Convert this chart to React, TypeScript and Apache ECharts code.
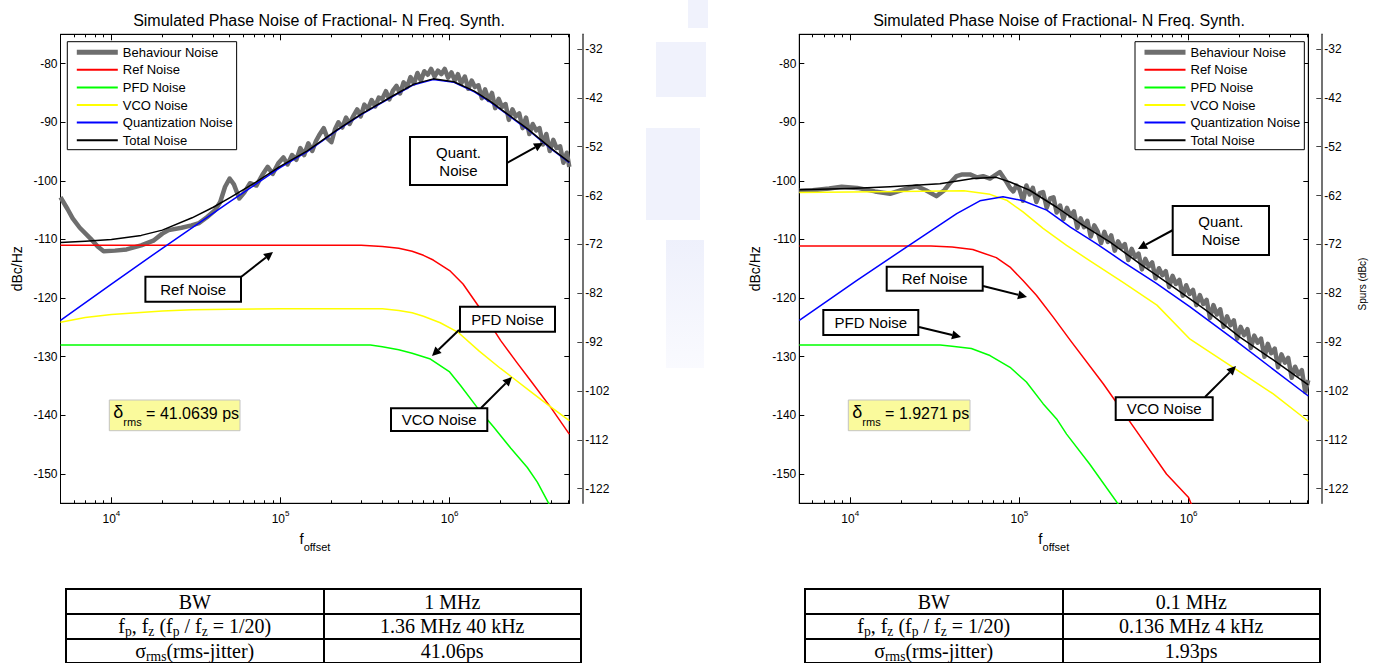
import React, { useEffect, useRef } from 'react';
import * as echarts from 'echarts';

const FONT = '"Liberation Sans", Arial, Helvetica, sans-serif';
const SERIF = '"Liberation Serif", "Times New Roman", Times, serif';

// ---------- axes ----------
const X_MIN = 5000;
const X_MAX = 5.1e6;
const X_MAJOR_TICKS = [1e4, 1e5, 1e6];
const X_MINOR_TICKS = [6e3, 7e3, 8e3, 9e3, 2e4, 3e4, 4e4, 5e4, 6e4, 7e4, 8e4, 9e4, 2e5, 3e5, 4e5, 5e5, 6e5, 7e5, 8e5, 9e5, 2e6, 3e6, 4e6, 5e6];
const Y_MIN = -155;
const Y_MAX = -75;
const Y_TICKS = [-150, -140, -130, -120, -110, -100, -90, -80];
const SPUR_MIN = -125;
const SPUR_MAX = -29;
const SPUR_TICKS = [-122, -112, -102, -92, -82, -72, -62, -52, -42, -32];

const TITLE = 'Simulated Phase Noise of Fractional- N Freq. Synth.';
const SERIES_NAMES = ['Behaviour Noise', 'Ref Noise', 'PFD Noise', 'VCO Noise', 'Quantization Noise', 'Total Noise'];
const SERIES_COLORS = ['#6e6e6e', '#ff0000', '#00ff00', '#ffff00', '#0000ff', '#000000'];

// ---------- chart 1: BW = 1 MHz ----------
const bw1MBehavFreq = [5e3, 5.5e3, 5.9e3, 6.5e3, 7.5e3, 8.3e3, 9e3, 1.05e4, 1.23e4, 1.5e4, 1.77e4, 2e4, 2.18e4, 2.6e4, 2.98e4, 3.3e4, 3.67e4, 4.1e4, 4.4e4, 4.7e4, 5e4, 5.3e4, 5.7e4, 6.1e4, 6.6e4, 7.2e4, 7.8e4,
  8.4e4, 9.0e4, 9.7e4, 1.04e5, 1.1e5, 1.17e5, 1.24e5, 1.31e5, 1.38e5, 1.46e5, 1.54e5, 1.62e5, 1.71e5, 1.8e5, 1.9e5, 2.0e5, 2.1e5, 2.2e5, 2.32e5, 2.44e5, 2.56e5, 2.7e5, 2.84e5, 2.98e5,
  3.13e5, 3.29e5, 3.46e5, 3.63e5, 3.81e5, 4.0e5, 4.2e5, 4.4e5, 4.62e5, 4.85e5, 5.09e5, 5.34e5, 5.6e5, 5.87e5, 6.15e5, 6.45e5, 6.76e5, 7.08e5, 7.42e5, 7.77e5, 8.14e5, 8.53e5, 8.93e5, 9.35e5, 9.79e5,
  1.025e6, 1.073e6, 1.12e6, 1.17e6, 1.23e6, 1.29e6, 1.35e6, 1.41e6, 1.48e6, 1.55e6, 1.62e6, 1.7e6, 1.78e6, 1.86e6, 1.95e6, 2.04e6, 2.14e6, 2.24e6, 2.35e6, 2.46e6, 2.58e6, 2.7e6, 2.83e6, 2.96e6,
  3.1e6, 3.25e6, 3.4e6, 3.56e6, 3.73e6, 3.91e6, 4.1e6, 4.29e6, 4.5e6, 4.71e6, 4.93e6, 5.1e6];
const bw1MBehavDb = [-102.8, -104.8, -106.4, -108.0, -109.8, -111.2, -112.0, -111.9, -111.7, -111.0, -110.2, -109.0, -108.4, -108.0, -107.6, -107.2, -106.2, -105.0, -103.6, -101.0, -99.6, -100.6, -103.0, -102.0, -100.4, -100.8, -99.0,
  -97.6, -98.8, -97.0, -96.0, -97.2, -95.6, -96.4, -94.4, -95.6, -93.6, -94.9, -93.2, -92.0, -91.0, -92.8, -93.4, -91.2, -90.0, -90.9, -89.2, -90.3, -88.9, -87.8, -89.0,
  -87.0, -87.7, -86.2, -87.3, -85.8, -86.0, -84.7, -86.1, -84.6, -83.8, -85.1, -83.2, -84.0, -82.3, -83.4, -81.6, -82.9, -81.3, -81.9, -80.9, -82.2, -81.2, -81.8, -80.9, -82.4,
  -81.5, -82.9, -81.8, -83.4, -82.2, -84.3, -82.9, -84.0, -83.7, -85.9, -84.4, -86.2, -85.0, -87.6, -86.0, -87.4, -86.9, -89.6, -87.8, -89.0, -88.5, -91.0, -89.2, -92.0,
  -90.3, -91.4, -91.0, -93.8, -92.0, -94.9, -93.0, -94.4, -94.1, -96.9, -95.2, -97.6];
const bw1MRefFreq = [5e3, 1e4, 3e4, 1e5, 2e5, 3e5, 4e5, 5e5, 6e5, 7e5, 8e5, 1e6, 1.2e6, 1.5e6, 2e6, 2.5e6, 3e6, 4e6, 5.1e6];
const bw1MRefDb = [-111, -111, -111, -111, -111, -111, -111.2, -111.5, -112, -112.7, -113.5, -115.3, -117.6, -121.6, -127.2, -131, -134, -138.8, -143.2];
const bw1MPfdFreq = [5e3, 1e4, 3e4, 1e5, 2e5, 3.4e5, 4e5, 5e5, 6e5, 7.7e5, 1e6, 1.16e6, 1.45e6, 1.82e6, 2.3e6, 2.88e6, 3.3e6, 3.9e6];
const bw1MPfdDb = [-128, -128, -128, -128, -128, -128, -128.3, -128.8, -129.4, -130.4, -132.6, -134.9, -138.6, -142, -145.6, -148.9, -151.4, -155.3];
const bw1MVcoFreq = [5e3, 7e3, 1e4, 2e4, 3e4, 5e4, 1e5, 2e5, 4e5, 5e5, 6e5, 7e5, 8.8e5, 1.13e6, 1.49e6, 2e6, 2.34e6, 3e6, 3.85e6, 5.1e6];
const bw1MVcoDb = [-124.1, -123.3, -122.8, -122.2, -122.0, -121.9, -121.8, -121.8, -121.8, -122.1, -122.5, -123.1, -124.2, -125.9, -129.0, -132.0, -133.5, -135.9, -138.3, -140.9];
const bw1MQuantFreq = [5e3, 1e4, 2e4, 5e4, 1e5, 1.44e5, 2.16e5, 3e5, 4.68e5, 6.14e5, 8e5, 1.06e6, 1.4e6, 1.75e6, 2.2e6, 2.88e6, 4e6, 5.1e6];
const bw1MQuantDb = [-123.8, -117.6, -111.5, -103.6, -97.7, -95.0, -91.4, -88.7, -85.5, -83.6, -82.7, -83.2, -84.8, -86.6, -88.7, -91.2, -94.6, -96.9];
const bw1MTotalFreq = [5e3, 7e3, 1e4, 1.5e4, 2e4, 3e4, 4e4, 5e4, 7e4, 1e5, 1.44e5, 2.16e5, 3e5, 4.68e5, 6.14e5, 8e5, 1.06e6, 1.4e6, 1.75e6, 2.2e6, 2.88e6, 4e6, 5.1e6];
const bw1MTotalDb = [-110.5, -110.3, -110.0, -109.3, -108.4, -106.3, -104.5, -102.9, -100.4, -97.5, -94.9, -91.3, -88.6, -85.4, -83.5, -82.6, -83.1, -84.7, -86.5, -88.6, -91.1, -94.5, -96.8];

// ---------- chart 2: BW = 0.1 MHz ----------
const bw100kBehavFreq = [5e3, 6e3, 7.5e3, 8.9e3, 1.1e4, 1.4e4, 1.72e4, 2.0e4, 2.47e4, 2.8e4, 3.23e4, 3.6e4, 3.88e4, 4.25e4, 4.6e4, 5.1e4, 5.6e4, 6.1e4, 6.7e4, 7.2e4, 7.66e4, 8.0e4, 8.4e4, 8.8e4, 9.2e4, 9.6e4, 1.0e5, 1.05e5,
  1.1e5, 1.15e5, 1.2e5, 1.26e5, 1.32e5, 1.38e5, 1.45e5, 1.52e5, 1.59e5, 1.66e5, 1.74e5, 1.82e5, 1.91e5, 2.0e5, 2.1e5, 2.2e5, 2.3e5, 2.41e5, 2.52e5, 2.64e5, 2.77e5, 2.9e5,
  3.04e5, 3.18e5, 3.33e5, 3.49e5, 3.66e5, 3.83e5, 4.01e5, 4.2e5, 4.4e5, 4.61e5, 4.83e5, 5.06e5, 5.3e5, 5.55e5, 5.81e5, 6.09e5, 6.38e5, 6.68e5, 7.0e5, 7.33e5, 7.68e5, 8.04e5, 8.42e5, 8.82e5, 9.24e5, 9.68e5,
  1.014e6, 1.062e6, 1.112e6, 1.165e6, 1.22e6, 1.278e6, 1.339e6, 1.402e6, 1.469e6, 1.538e6, 1.611e6, 1.688e6, 1.768e6, 1.851e6, 1.939e6, 2.031e6, 2.127e6, 2.228e6, 2.334e6, 2.445e6, 2.56e6, 2.68e6, 2.81e6, 2.94e6,
  3.08e6, 3.23e6, 3.38e6, 3.54e6, 3.71e6, 3.88e6, 4.07e6, 4.26e6, 4.46e6, 4.67e6, 4.89e6, 5.1e6];
const bw100kBehavDb = [-101.7, -101.6, -101.3, -101.0, -101.2, -101.8, -102.2, -101.6, -100.9, -101.6, -102.6, -101.6, -100.4, -99.2, -98.9, -98.9, -99.4, -99.2, -99.6, -99.0, -98.5, -99.3, -100.2, -101.2, -101.8, -100.8, -101.4, -103.4,
  -100.8, -102.3, -101.2, -103.6, -102.1, -101.9, -104.6, -103.0, -102.8, -105.4, -104.2, -106.5, -104.6, -106.0, -105.2, -108.0, -106.4, -107.9, -106.8, -109.5, -107.6, -108.6,
  -110.6, -108.7, -110.4, -109.3, -111.9, -110.3, -111.4, -110.8, -113.5, -111.6, -113.0, -112.4, -115.1, -113.3, -114.6, -113.9, -116.6, -114.9, -116.1, -115.4, -118.1, -116.2, -117.6, -116.9, -119.6, -117.8,
  -119.3, -118.6, -121.2, -119.5, -121.0, -120.3, -123.4, -121.2, -122.8, -121.9, -124.9, -123.1, -124.6, -123.8, -126.9, -124.9, -126.3, -125.3, -128.5, -126.4, -127.6, -126.9, -130.0, -127.8,
  -129.4, -128.6, -131.8, -129.6, -131.0, -130.2, -133.6, -131.7, -133.0, -132.3, -136.0, -134.0];
const bw100kRefFreq = [5e3, 1e4, 2e4, 3e4, 4e4, 5.3e4, 7.3e4, 8.8e4, 1.05e5, 1.26e5, 1.58e5, 2e5, 3.13e5, 4.9e5, 7.4e5, 1e6, 1.05e6];
const bw100kRefDb = [-111.1, -111.1, -111.1, -111.1, -111.3, -111.7, -113.1, -114.7, -117, -119.5, -123.2, -127.2, -134.6, -142.6, -150, -154, -155.5];
const bw100kPfdFreq = [5e3, 1e4, 2e4, 3.4e4, 4e4, 5.2e4, 6.7e4, 8.8e4, 1.1e5, 1.38e5, 1.66e5, 1.9e5, 2.6e5, 3.85e5];
const bw100kPfdDb = [-128, -128, -128, -128, -128.2, -128.6, -129.8, -131.8, -134.3, -138, -140.6, -143.2, -148.3, -155.2];
const bw100kVcoFreq = [5e3, 1e4, 2e4, 4.7e4, 6.7e4, 8.4e4, 1.05e5, 1.38e5, 1.9e5, 2.6e5, 4.1e5, 6.5e5, 1.02e6, 1.83e6, 3.15e6, 5.1e6];
const bw100kVcoDb = [-102.0, -101.9, -101.8, -101.7, -102.3, -103.3, -105.3, -108.1, -111.0, -113.6, -117.3, -121.2, -127.0, -131.8, -136.3, -141.0];
const bw100kQuantFreq = [5e3, 1.09e4, 2.15e4, 4.26e4, 5.84e4, 8e4, 1.05e5, 1.45e5, 2e5, 2.85e5, 4.1e5, 6.45e5, 1.02e6, 1.83e6, 3.15e6, 5.1e6];
const bw100kQuantDb = [-123.8, -117.0, -111.3, -105.6, -103.4, -102.7, -103.4, -105.0, -107.9, -110.7, -113.8, -117.5, -121.5, -126.9, -132.1, -136.7];
const bw100kTotalFreq = [5e3, 1e4, 1.72e4, 3.39e4, 5.33e4, 7.3e4, 8.8e4, 1.15e5, 1.66e5, 2.38e5, 3.42e5, 5.14e5, 8.1e5, 1.27e6, 2e6, 3.15e6, 5.1e6];
const bw100kTotalDb = [-101.5, -101.3, -101.0, -100.5, -99.6, -99.4, -100.2, -101.6, -104.5, -107.6, -110.4, -114.1, -118.1, -122.1, -126.6, -130.5, -134.8];

const JITTER_PS = ['41.0639', '1.9271'];

// table contents
const TABLE_VALUES = [
  ['1 MHz', '1.36 MHz 40 kHz', '41.06ps'],
  ['0.1 MHz', '0.136 MHz 4 kHz', '1.93ps'],
];

// ---------- layout (pixels) ----------
const LAYOUT = [
  { left: 60.5, top: 34.3, width: 508.8, height: 469, titleX: 319, legendLeft: 67.3, jitterBox: [109.3, 400, 130.7, 30.7], tableLeft: 65 },
  { left: 799.3, top: 34.3, width: 509, height: 469, titleX: 1059, legendLeft: 1135, jitterBox: [848.3, 400, 121.7, 30.7], tableLeft: 804 },
];
const ANNOTATIONS = [
  [
    { text: 'Quant.\nNoise', box: [410, 137, 97, 48], arrow: [507, 163, 543, 143] },
    { text: 'Ref Noise', box: [145.4, 276.7, 95.6, 25], arrow: [241, 277, 273, 252] },
    { text: 'PFD Noise', box: [460, 306.7, 95, 25], arrow: [459, 330, 432, 356] },
    { text: 'VCO Noise', box: [391, 408.3, 96.3, 22.7], arrow: [481, 408, 512, 377] },
  ],
  [
    { text: 'Quant.\nNoise', box: [1172.7, 206, 96.3, 49], arrow: [1173, 230, 1138, 249] },
    { text: 'Ref Noise', box: [886.7, 266.7, 96, 24], arrow: [983, 286, 1027, 297] },
    { text: 'PFD Noise', box: [823.3, 310, 95, 25], arrow: [919, 327, 961, 337] },
    { text: 'VCO Noise', box: [1115.7, 397.3, 97, 22.7], arrow: [1205, 397, 1236, 366] },
  ],
];
// faint watermark fragments between the two panels
const WATERMARK_RECTS = [
  [688, 0, 20, 28],
  [656, 42, 50, 55],
  [646, 128, 54, 92],
  [666, 240, 38, 128],
];

const CHART_DATA = [
  [[bw1MBehavFreq, bw1MBehavDb], [bw1MRefFreq, bw1MRefDb], [bw1MPfdFreq, bw1MPfdDb], [bw1MVcoFreq, bw1MVcoDb], [bw1MQuantFreq, bw1MQuantDb], [bw1MTotalFreq, bw1MTotalDb]],
  [[bw100kBehavFreq, bw100kBehavDb], [bw100kRefFreq, bw100kRefDb], [bw100kPfdFreq, bw100kPfdDb], [bw100kVcoFreq, bw100kVcoDb], [bw100kQuantFreq, bw100kQuantDb], [bw100kTotalFreq, bw100kTotalDb]],
];

function pairs(f: number[], v: number[]) {
  return f.map((x, i) => [x, v[i]]);
}

function arrowEls(x1: number, y1: number, x2: number, y2: number) {
  const dx = x2 - x1, dy = y2 - y1;
  const L = Math.hypot(dx, dy);
  const ux = dx / L, uy = dy / L;
  const hl = 9, hw = 4.5;
  const bx = x2 - ux * hl, by = y2 - uy * hl;
  return [
    { type: 'line', z: 100, silent: true, shape: { x1, y1, x2: bx, y2: by }, style: { stroke: '#000', lineWidth: 2 } },
    { type: 'polygon', z: 100, silent: true, shape: { points: [[x2, y2], [bx - uy * hw, by + ux * hw], [bx + uy * hw, by - ux * hw]] }, style: { fill: '#000' } },
  ];
}

function buildOption() {
  const grid: any[] = [], xAxis: any[] = [], yAxis: any[] = [], series: any[] = [], legend: any[] = [], graphic: any[] = [], title: any[] = [];

  WATERMARK_RECTS.forEach(([x, y, w, h], i) => {
    graphic.push({
      type: 'rect', z: -10, silent: true, shape: { x, y, width: w, height: h },
      style: {
        fill: i === 3
          ? new echarts.graphic.LinearGradient(0, 0, 0, 1, [{ offset: 0, color: '#e7eafa' }, { offset: 1, color: '#f7f8fe' }])
          : '#eaedfb',
        opacity: 0.7,
      },
    });
  });

  LAYOUT.forEach((L, k) => {
    title.push({
      text: TITLE, left: L.titleX, top: 12, textAlign: 'center', padding: 0,
      textStyle: { fontSize: 16, fontWeight: 'normal', color: '#000', fontFamily: FONT },
    });
    grid.push({ left: L.left, top: L.top, width: L.width, height: L.height, show: true, borderColor: '#000', borderWidth: 1, backgroundColor: '#fff' });
    const xBase = {
      type: 'log', logBase: 10, gridIndex: k, min: X_MIN, max: X_MAX, silent: true,
      splitLine: { show: false }, minorTick: { show: false }, minorSplitLine: { show: false },
      axisLine: { show: true, onZero: false, lineStyle: { color: '#000', width: 1 } },
    };
    const majorTick = { show: true, inside: true, length: 6, customValues: X_MAJOR_TICKS, lineStyle: { color: '#000', width: 1 } };
    const minorTick = { show: true, inside: true, length: 3, customValues: X_MINOR_TICKS, lineStyle: { color: '#000', width: 1 } };
    xAxis.push({
      ...xBase, position: 'bottom', axisTick: majorTick,
      axisLabel: {
        show: true, customValues: X_MAJOR_TICKS, margin: 6,
        formatter: (v: number) => `{b|10}{s|${Math.round(Math.log10(v))}}`,
        rich: {
          b: { fontSize: 12, fontFamily: FONT, color: '#000', verticalAlign: 'bottom' },
          s: { fontSize: 8, fontFamily: FONT, color: '#000', verticalAlign: 'bottom', padding: [0, 0, 8, 0] },
        },
      },
      name: '{f|f}{o|offset}', nameLocation: 'middle', nameGap: 27.5,
      nameTextStyle: {
        rich: {
          f: { fontSize: 15, fontFamily: FONT, color: '#000', verticalAlign: 'bottom', padding: [0, 0, 7, 0] },
          o: { fontSize: 11, fontFamily: FONT, color: '#000', verticalAlign: 'bottom' },
        },
      },
    });
    xAxis.push({ ...xBase, position: 'bottom', axisTick: minorTick, axisLabel: { show: false } });
    xAxis.push({ ...xBase, position: 'top', axisTick: majorTick, axisLabel: { show: false } });
    xAxis.push({ ...xBase, position: 'top', axisTick: minorTick, axisLabel: { show: false } });

    const yTick = { show: true, inside: true, length: 5, customValues: Y_TICKS, lineStyle: { color: '#000', width: 1 } };
    yAxis.push({
      type: 'value', gridIndex: k, position: 'left', min: Y_MIN, max: Y_MAX, silent: true,
      axisLine: { show: true, onZero: false, lineStyle: { color: '#000', width: 1 } },
      axisTick: yTick,
      axisLabel: { show: true, customValues: Y_TICKS, margin: 3, fontSize: 12, color: '#000', fontFamily: FONT },
      splitLine: { show: false },
      name: 'dBc/Hz', nameLocation: 'middle', nameRotate: 90, nameGap: 37,
      nameTextStyle: { fontSize: 14, color: '#000', fontFamily: FONT },
    });
    yAxis.push({
      type: 'value', gridIndex: k, position: 'right', offset: 0, min: Y_MIN, max: Y_MAX, silent: true,
      axisLine: { show: true, onZero: false, lineStyle: { color: '#000', width: 1 } },
      axisTick: yTick, axisLabel: { show: false }, splitLine: { show: false },
    });
    yAxis.push({
      type: 'value', gridIndex: k, position: 'right', offset: 13, min: SPUR_MIN, max: SPUR_MAX, silent: true,
      axisLine: { show: true, onZero: false, lineStyle: { color: '#444', width: 1.5 } },
      axisTick: { show: true, inside: true, length: 5, customValues: SPUR_TICKS, lineStyle: { color: '#444', width: 1 } },
      axisLabel: { show: true, customValues: SPUR_TICKS, margin: 3, fontSize: 12, color: '#000', fontFamily: FONT },
      splitLine: { show: false },
    });

    CHART_DATA[k].forEach(([f, v], i) => {
      series.push({
        type: 'line', name: SERIES_NAMES[i], xAxisIndex: 4 * k, yAxisIndex: 3 * k,
        data: pairs(f, v), showSymbol: false, symbol: 'none', clip: true, silent: true,
        smooth: false,
        lineStyle: { color: SERIES_COLORS[i], width: i === 0 ? 4.5 : 1.5, join: 'round' },
        itemStyle: { color: SERIES_COLORS[i] },
        emphasis: { disabled: true }, z: 2 + i,
      });
    });

    legend.push({
      show: true, left: L.legendLeft, top: 41.7, orient: 'vertical', selectedMode: false,
      backgroundColor: '#fff', borderColor: '#000', borderWidth: 1, borderRadius: 0,
      padding: [4, 4, 3, 7], itemGap: 4.6, itemWidth: 41, itemHeight: 14,
      textStyle: { fontSize: 13, color: '#000', fontFamily: FONT },
      itemStyle: { opacity: 0, borderWidth: 0 },
      data: SERIES_NAMES.map((n, i) => ({ name: n, lineStyle: { width: i === 0 ? 5 : 2 }, itemStyle: { opacity: 0, borderWidth: 0 } })),
    });

    ANNOTATIONS[k].forEach((a) => {
      const [x1, y1, x2, y2] = a.arrow;
      graphic.push(...arrowEls(x1, y1, x2, y2));
      const [bx, by, bw, bh] = a.box;
      graphic.push({ type: 'rect', z: 101, silent: true, shape: { x: bx, y: by, width: bw, height: bh }, style: { fill: '#fff', stroke: '#000', lineWidth: 2 } });
      graphic.push({
        type: 'text', z: 102, silent: true, x: bx + bw / 2, y: by + bh / 2,
        style: { text: a.text, fontSize: 15, fontFamily: FONT, fill: '#000', align: 'center', verticalAlign: 'middle', textAlign: 'center', textVerticalAlign: 'middle', lineHeight: 18 },
      });
    });

    const [jx, jy, jw, jh] = L.jitterBox;
    graphic.push({ type: 'rect', z: 101, silent: true, shape: { x: jx, y: jy, width: jw, height: jh }, style: { fill: '#fafa9c', stroke: '#c4c4c4', lineWidth: 1 } });
    graphic.push({
      type: 'text', z: 102, silent: true, x: jx + 4, y: jy + jh / 2,
      style: {
        text: `{d|δ}{r|rms}{t| = ${JITTER_PS[k]} ps}`,
        align: 'left', verticalAlign: 'middle', textAlign: 'left', textVerticalAlign: 'middle',
        rich: {
          d: { fontSize: 18, fontFamily: FONT, fill: '#000', color: '#000', verticalAlign: 'bottom', padding: [0, 0, 6, 0] },
          r: { fontSize: 11, fontFamily: FONT, fill: '#000', color: '#000', verticalAlign: 'bottom' },
          t: { fontSize: 16, fontFamily: FONT, fill: '#000', color: '#000', verticalAlign: 'bottom', padding: [0, 0, 6, 0] },
        },
      },
    });
  });

  graphic.push({
    type: 'text', z: 102, silent: true, x: 1362, y: 284, rotation: Math.PI / 2,
    style: { text: 'Spurs (dBc)', fontSize: 10, fontFamily: FONT, fill: '#000', align: 'center', verticalAlign: 'middle', textAlign: 'center', textVerticalAlign: 'middle' },
  });

  return {
    animation: false,
    backgroundColor: '#fff',
    textStyle: { fontFamily: FONT, color: '#000' },
    title, grid, xAxis, yAxis, series, legend, graphic,
  };
}

const subStyle: React.CSSProperties = { fontSize: '0.68em', verticalAlign: '-0.25em', lineHeight: 0 };

function rowLabel(i: number) {
  if (i === 0) return 'BW';
  if (i === 1) return (<>f<sub style={subStyle}>p</sub>, f<sub style={subStyle}>z</sub> (f<sub style={subStyle}>p</sub> / f<sub style={subStyle}>z</sub> = 1/20)</>);
  return (<>σ<sub style={subStyle}>rms</sub>(rms-jitter)</>);
}

function InfoTable({ left, values }: { left: number; values: string[] }) {
  const cell: React.CSSProperties = { border: '2px solid #000', padding: 0, textAlign: 'center', verticalAlign: 'middle', lineHeight: '20px', height: '22.7px', width: '50%' };
  return (
    <table style={{ position: 'absolute', left, top: 588.3, width: 517, borderCollapse: 'collapse', tableLayout: 'fixed', fontFamily: SERIF, fontSize: 20, color: '#000' }}>
      <tbody>
        {values.map((v, i) => (
          <tr key={i}>
            <td style={cell}>{rowLabel(i)}</td>
            <td style={cell}>{v}</td>
          </tr>
        ))}
      </tbody>
    </table>
  );
}

export default function App() {
  const ref = useRef<HTMLDivElement>(null);
  useEffect(() => {
    if (!ref.current) return;
    const chart = echarts.init(ref.current, undefined, { renderer: 'svg' });
    chart.setOption(buildOption() as any);
    return () => chart.dispose();
  }, []);
  return (
    <div style={{ position: 'absolute', left: 0, top: 0, width: 1382, height: 663, background: '#fff', overflow: 'hidden' }}>
      <div ref={ref} style={{ position: 'absolute', left: 0, top: 0, width: 1382, height: 663 }} />
      {LAYOUT.map((L, k) => (
        <InfoTable key={k} left={L.tableLeft} values={TABLE_VALUES[k]} />
      ))}
    </div>
  );
}
